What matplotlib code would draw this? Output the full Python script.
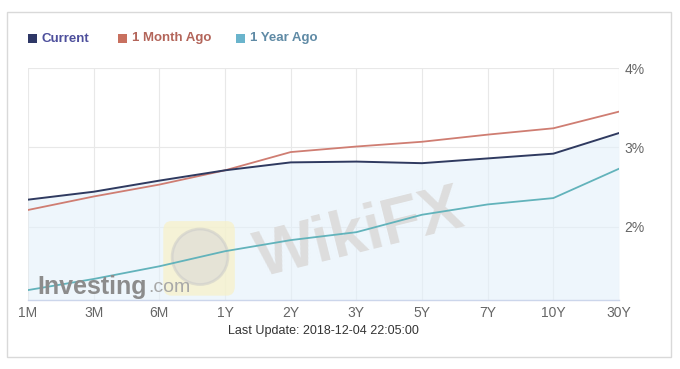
import matplotlib
matplotlib.use("Agg")
import matplotlib.pyplot as plt
from matplotlib.patches import Rectangle, FancyBboxPatch, Ellipse

plt.rcParams['font.family'] = ['Liberation Sans', 'DejaVu Sans']

categories = ["1M", "3M", "6M", "1Y", "2Y", "3Y", "5Y", "7Y", "10Y", "30Y"]
current = [2.34, 2.44, 2.58, 2.71, 2.81, 2.82, 2.80, 2.86, 2.92, 3.18]
month_ago = [2.21, 2.38, 2.53, 2.71, 2.94, 3.01, 3.07, 3.16, 3.24, 3.45]
year_ago = [1.20, 1.34, 1.50, 1.69, 1.83, 1.93, 2.15, 2.28, 2.36, 2.73]
y_ticks = [2, 3, 4]
y_tick_labels = ["2%", "3%", "4%"]
series_names = ["Current", "1 Month Ago", "1 Year Ago"]

W, H = 680, 369
fig = plt.figure(figsize=(W / 100, H / 100), dpi=100)
fig.patch.set_facecolor("white")

# outer frame
fig.patches.append(Rectangle((7 / W, 1 - 357 / H), (671 - 7) / W, (357 - 12) / H,
                             transform=fig.transFigure, fill=False,
                             edgecolor="#d9d9d9", linewidth=1.0))

ax = fig.add_axes([28 / W, 1 - 300 / H, (619 - 28) / W, (300 - 68) / H])
x = list(range(len(categories)))
ymin = 1.075
ax.set_xlim(0, len(categories) - 1)
ax.set_ylim(ymin, 4.0)

# grid
for xi in x:
    ax.axvline(xi, color="#e8e8e8", linewidth=0.8, zorder=0)
for yt in y_ticks:
    ax.axhline(yt, color="#e8e8e8", linewidth=0.8, zorder=0)

for s in ["top", "left", "right"]:
    ax.spines[s].set_visible(False)
ax.spines["bottom"].set_color("#ccd6eb")
ax.spines["bottom"].set_linewidth(1.0)

# area under current
ax.fill_between(x, current, ymin, color="#e3f1fb", alpha=0.6, linewidth=0, zorder=1)

# watermarks
ax.add_patch(FancyBboxPatch((2.08, 1.15), 1.05, 0.9, boxstyle="round,pad=0.02,rounding_size=0.12",
                            facecolor="#f8f1c6", edgecolor="none", alpha=0.7, zorder=2,
                            transform=ax.transData))
ax.add_patch(Ellipse((2.62, 1.62), 0.85, 0.7, transform=ax.transData, facecolor="#d6d6d6",
                     edgecolor="#c8c8c8", linewidth=2, alpha=0.5, zorder=2))
ax.text(5.05, 1.9, "WikiFX", fontsize=46, fontweight="bold", color="#dddddd",
        rotation=14, ha="center", va="center", zorder=2)
inv = ax.text(0.14, 1.24, "Investing", fontsize=18, fontweight="bold", color="#8c8c8c",
              ha="left", va="center", zorder=4)
ax.annotate(".com", xy=(1, 0), xycoords=inv, xytext=(1, 2), textcoords="offset points",
            fontsize=14, color="#a8a8a8", ha="left", va="bottom", zorder=4)

c_cur = "#2f3a60"
c_mon = "#cf7d72"
c_yr = "#62b3bb"
ax.plot(x, year_ago, color=c_yr, linewidth=1.3, zorder=3)
ax.plot(x, month_ago, color=c_mon, linewidth=1.3, zorder=3)
ax.plot(x, current, color=c_cur, linewidth=1.4, zorder=3)

ax.set_xticks(x)
ax.set_xticklabels(categories, fontsize=10, color="#666666")
ax.tick_params(axis="x", length=0, pad=4)
ax.yaxis.tick_right()
ax.set_yticks(y_ticks)
ax.set_yticklabels(y_tick_labels, fontsize=10, color="#666666")
ax.tick_params(axis="y", length=0, pad=4)

# legend
leg_items = [(28, series_names[0], "#2e3766", "#4d4f9c"),
             (118, series_names[1], "#c8705f", "#b3655a"),
             (236, series_names[2], "#6ab4cc", "#5f8aa5")]
for lx, name, mc, tc in leg_items:
    fig.patches.append(Rectangle((lx / W, 1 - 43 / H), 9 / W, 9 / H,
                                 transform=fig.transFigure, facecolor=mc, edgecolor="none"))
    fig.text((lx + 14) / W, 1 - 38.5 / H, name, fontsize=9.5, fontweight="bold",
             color=tc, ha="left", va="center")

fig.text(323 / W, 1 - 331 / H, "Last Update: 2018-12-04 22:05:00", fontsize=9,
         color="#333333", ha="center", va="center")

fig.savefig("out.png", dpi=100)
